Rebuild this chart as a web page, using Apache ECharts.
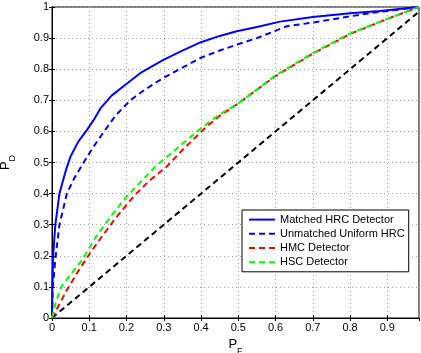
<!DOCTYPE html>
<html>
<head>
<meta charset="utf-8">
<script src="https://cdn.jsdelivr.net/npm/echarts@6/dist/echarts.min.js"></script>
<style>html,body{margin:0;padding:0;background:#fff}#c{width:421px;height:353px}</style>
</head>
<body>
<div id="c"></div>
<script>
var seriesNames = ['Matched HRC Detector', 'Unmatched Uniform HRC', 'HMC Detector', 'HSC Detector'];

var matchedPF = [0, 0.001, 0.003, 0.009, 0.02, 0.038, 0.05, 0.071, 0.094, 0.112, 0.13, 0.16, 0.197, 0.24, 0.299, 0.35, 0.398, 0.45, 0.496, 0.55, 0.612, 0.7, 0.8, 0.88, 0.985];
var matchedPD = [0, 0.1, 0.2, 0.3, 0.4, 0.478, 0.52, 0.568, 0.605, 0.637, 0.674, 0.715, 0.75, 0.79, 0.83, 0.86, 0.886, 0.907, 0.922, 0.936, 0.953, 0.968, 0.98, 0.987, 1];

var unmatchedPF = [0, 0.002, 0.01, 0.02, 0.04, 0.06, 0.085, 0.112, 0.14, 0.17, 0.21, 0.25, 0.299, 0.35, 0.398, 0.45, 0.496, 0.55, 0.63, 0.7, 0.746, 0.8, 0.853, 0.92, 0.985];
var unmatchedPD = [0, 0.1, 0.2, 0.3, 0.4, 0.45, 0.5, 0.552, 0.6, 0.65, 0.7, 0.735, 0.772, 0.805, 0.836, 0.86, 0.879, 0.9, 0.938, 0.95, 0.959, 0.97, 0.98, 0.99, 1];

var hmcPF = [0, 0.02, 0.04, 0.07, 0.1, 0.134, 0.17, 0.219, 0.26, 0.308, 0.35, 0.411, 0.45, 0.5, 0.6, 0.7, 0.8, 0.9, 0.985];
var hmcPD = [0, 0.045, 0.09, 0.15, 0.205, 0.262, 0.32, 0.391, 0.44, 0.487, 0.54, 0.611, 0.65, 0.69, 0.778, 0.85, 0.913, 0.962, 1];

var hscPF = [0, 0.01, 0.025, 0.05, 0.08, 0.1, 0.12, 0.16, 0.2, 0.24, 0.28, 0.3, 0.35, 0.4, 0.45, 0.5, 0.6, 0.7, 0.8, 0.9, 0.985];
var hscPD = [0, 0.05, 0.1, 0.14, 0.185, 0.225, 0.265, 0.33, 0.39, 0.44, 0.49, 0.51, 0.56, 0.61, 0.655, 0.69, 0.78, 0.852, 0.915, 0.962, 1];

var chancePF = [0, 1];
var chancePD = [0, 1];

var xTicks = [0, 0.1, 0.2, 0.3, 0.4, 0.5, 0.6, 0.7, 0.8, 0.9];
var yTicks = [0, 0.1, 0.2, 0.3, 0.4, 0.5, 0.6, 0.7, 0.8, 0.9, 1];

function pairs(xs, ys) { return xs.map(function (x, i) { return [x, ys[i]]; }); }
function fmt(v) {
  var r = Math.round(v * 10) / 10;
  if (Math.abs(v - r) > 1e-6) return '';
  return r === 0 ? '0' : (r === 1 ? '1' : String(r));
}

var FONT = '"Liberation Sans", Arial, Helvetica, sans-serif';
var chart = echarts.init(document.getElementById('c'), null, { renderer: 'canvas' });

var gridLine = { show: true, lineStyle: { color: '#a0a0a0', type: [1, 3], width: 1 } };
var tick = { show: true, inside: true, length: 3, lineStyle: { color: '#000' } };

function lineSeries(name, xs, ys, color, dashed, z) {
  return {
    name: name, type: 'line', data: pairs(xs, ys), symbol: 'none', smooth: false,
    clip: true, z: z, animation: false,
    lineStyle: { color: color, width: 2, type: dashed ? [6, 4] : 'solid' },
    itemStyle: { color: color }
  };
}

var richName = {
  p: { fontFamily: FONT, fontSize: 13, color: '#000', verticalAlign: 'bottom', lineHeight: 14 },
  s: { fontFamily: FONT, fontSize: 9, color: '#000', verticalAlign: 'bottom', lineHeight: 14, padding: [0, 0, -5, 0] }
};

chart.setOption({
  animation: false,
  backgroundColor: '#fff',
  grid: { left: 52, right: 2, top: 7, bottom: 35, show: true, borderColor: '#000', borderWidth: 1, backgroundColor: 'transparent', containLabel: false, outerBoundsMode: 'none' },
  legend: {
    data: seriesNames,
    orient: 'vertical',
    left: 242, top: 210,
    itemWidth: 26, itemHeight: 14, itemGap: 3,
    padding: [4, 4, 4, 6],
    backgroundColor: '#fff',
    borderColor: '#000', borderWidth: 1,
    itemStyle: { opacity: 0 },
    textStyle: { fontFamily: FONT, fontSize: 11, color: '#000' }
  },
  xAxis: [{
    type: 'value', min: 0, max: 0.985, interval: 0.1,
    name: '{p|P}{s|F}', nameLocation: 'middle', nameGap: 16,
    nameTextStyle: { rich: richName },
    axisLine: { show: true, lineStyle: { color: '#000', width: 1 } },
    axisTick: tick,
    axisLabel: { show: true, fontFamily: FONT, fontSize: 11, color: '#000', margin: 4, formatter: fmt, showMaxLabel: false },
    splitLine: gridLine
  }, {
    type: 'value', min: 0, max: 0.985, interval: 0.1, position: 'top',
    axisLine: { show: true, lineStyle: { color: '#000' } },
    axisTick: tick, axisLabel: { show: false }, splitLine: { show: false }
  }],
  yAxis: [{
    type: 'value', min: 0, max: 1, interval: 0.1,
    name: '{p|P}{s|D}', nameLocation: 'middle', nameGap: 40, nameRotate: 90,
    nameTextStyle: { rich: richName },
    axisLine: { show: true, lineStyle: { color: '#000', width: 1 } },
    axisTick: tick,
    axisLabel: { show: true, fontFamily: FONT, fontSize: 11, color: '#000', margin: 3, formatter: fmt },
    splitLine: gridLine
  }, {
    type: 'value', min: 0, max: 1, interval: 0.1, position: 'right',
    axisLine: { show: true, lineStyle: { color: '#000' } },
    axisTick: tick, axisLabel: { show: false }, splitLine: { show: false }
  }],
  series: [
    lineSeries('chance', chancePF, chancePD, '#000000', true, 2),
    lineSeries(seriesNames[0], matchedPF, matchedPD, '#0000ff', false, 3),
    lineSeries(seriesNames[1], unmatchedPF, unmatchedPD, '#0000ff', true, 3),
    lineSeries(seriesNames[2], hmcPF, hmcPD, '#ff0000', true, 3),
    lineSeries(seriesNames[3], hscPF, hscPD, '#00ff00', true, 4)
  ]
});
</script>
</body>
</html>
